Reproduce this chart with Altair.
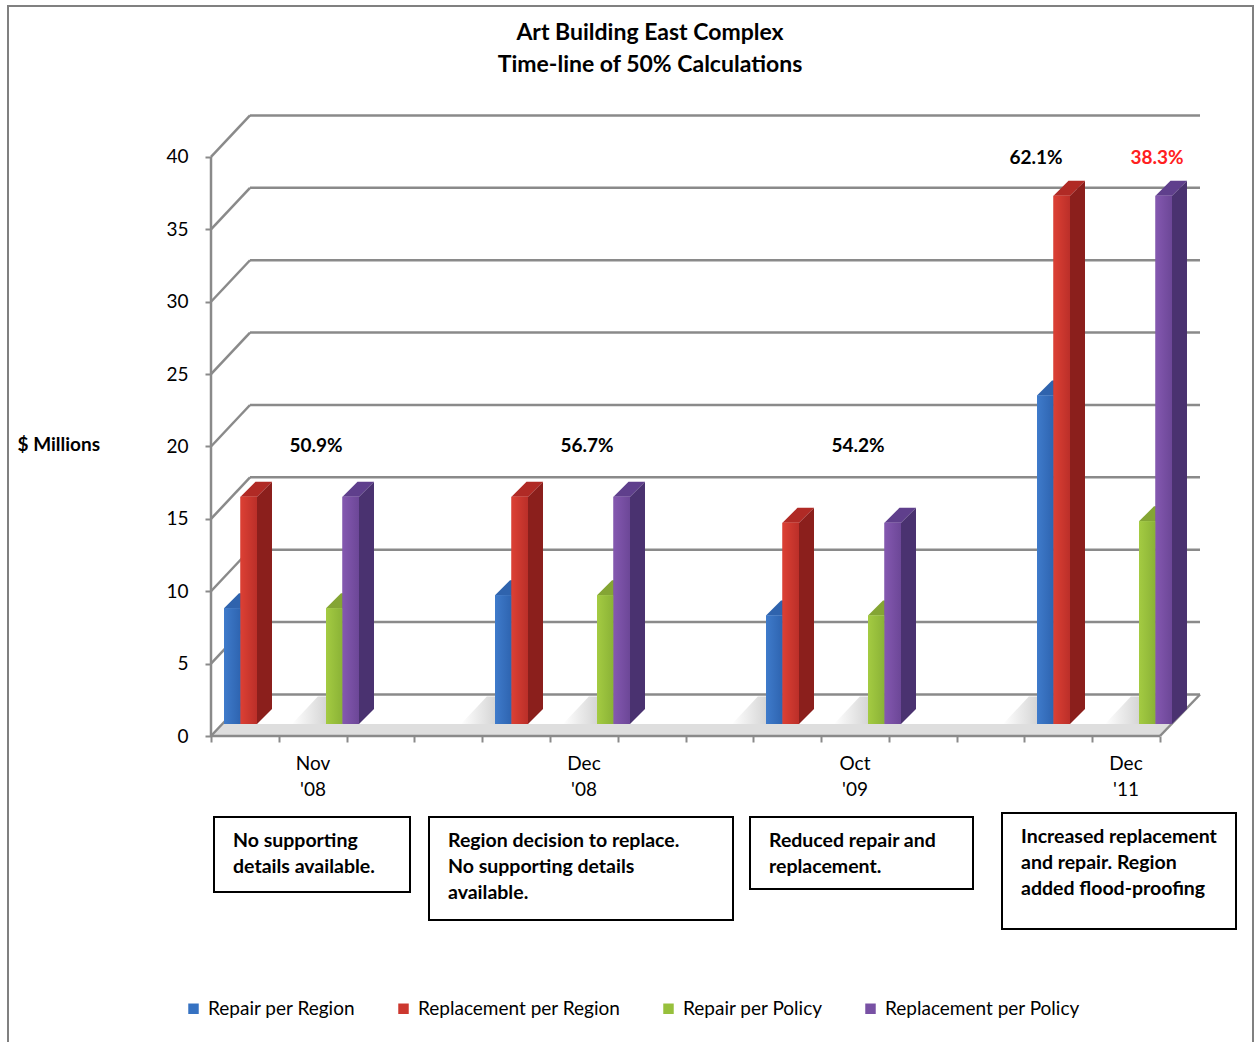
import altair as alt
import pandas as pd

# ---------------- data ----------------
CATEGORIES = ["Nov\n'08", "Dec\n'08", "Oct\n'09", "Dec\n'11"]
SERIES = ["Repair per Region", "Replacement per Region",
          "Repair per Policy", "Replacement per Policy"]
REPAIR_PER_REGION = [8.0, 8.9, 7.5, 22.7]
REPLACEMENT_PER_REGION = [15.7, 15.7, 13.9, 36.5]
REPAIR_PER_POLICY = [8.0, 8.9, 7.5, 14.0]
REPLACEMENT_PER_POLICY = [15.7, 15.7, 13.9, 36.5]
PCT_TEXT = ["50.9%", "56.7%", "54.2%", "62.1%", "38.3%"]
PCT_CATEGORY = [0, 1, 2, 3, 3]
PCT_PAIR = ["both", "both", "both", "region", "policy"]
Y_TICKS = [0, 5, 10, 15, 20, 25, 30, 35, 40]
NOTES = [
    "No supporting\ndetails available.",
    "Region decision to replace.\nNo supporting details\navailable.",
    "Reduced repair and\nreplacement.",
    "Increased replacement\nand repair.  Region\nadded flood-proofing",
]
TITLE_LINES = ["Art Building East Complex", "Time-line of 50% Calculations"]
Y_TITLE = "$ Millions"

# ---------------- layout / style ----------------
FONT = "Lato"
W, H = 989, 621
Y_MAX = 42.9
PXU = H / Y_MAX
GROUP_STEP = 271
GROUP_START = 13
BAR_W = 16.5
PAIR_GAP = 102
DEPTH_X = 15
DEPTH_Y = 15 / PXU
BASE = 12 / PXU
WALL_X = 39
WALL_Y = 41.5 / PXU
FLOOR_W = 949
GRID = "#8a8a8a"

FRONT = ["#3672c2", "#cc382f", "#97c03c", "#7851a4"]
FRONT_LIGHT = ["#3f7bcb", "#dc4034", "#a4cb42", "#8458b0"]
FRONT_DARK = ["#2e64b0", "#bb2f29", "#8ab236", "#6c4797"]
SIDE = ["#24518f", "#8b1f1c", "#6d8e28", "#4a3270"]
TOP = ["#2f63ad", "#b02a25", "#84a534", "#5f3f8c"]

VALUES = [REPAIR_PER_REGION, REPLACEMENT_PER_REGION, REPAIR_PER_POLICY, REPLACEMENT_PER_POLICY]

xs = alt.Scale(domain=[0, W], nice=False, zero=False)
ys = alt.Scale(domain=[0, Y_MAX], nice=False, zero=False)

# ---------------- geometry tables built from the arrays ----------------
front_rows, side_rows, top_rows = [], [], []
for si, (s, vals) in enumerate(zip(SERIES, VALUES)):
    for ci, v in enumerate(vals):
        x0 = GROUP_START + GROUP_STEP * ci + (si // 2) * PAIR_GAP + (si % 2) * BAR_W
        x1 = x0 + BAR_W
        b, t = BASE, BASE + v
        key = f"{ci}-{si}"
        front_rows.append(dict(series=s, x0=x0, x1=x1, b=b, t=t, value=v))
        side_rows += [dict(series=s, key=key, px=x1, lo=b, hi=t),
                      dict(series=s, key=key, px=x1 + DEPTH_X, lo=b + DEPTH_Y, hi=t + DEPTH_Y)]
        top_rows += [dict(series=s, key=key, px=x0, lo=t, hi=t),
                     dict(series=s, key=key, px=x0 + DEPTH_X, lo=t, hi=t + DEPTH_Y),
                     dict(series=s, key=key, px=x1, lo=t, hi=t + DEPTH_Y),
                     dict(series=s, key=key, px=x1 + DEPTH_X, lo=t + DEPTH_Y, hi=t + DEPTH_Y)]
front_df = pd.DataFrame(front_rows)
side_df = pd.DataFrame(side_rows)
top_df = pd.DataFrame(top_rows)

SLANT = WALL_X / WALL_Y  # x units per y unit along the depth direction
shadow_rows = []
for ci in range(len(CATEGORIES)):
    for p in range(2):
        xl = GROUP_START + GROUP_STEP * ci + p * PAIR_GAP
        k = f"{ci}-{p}"
        d = 1.9
        left = max(xl - 34, BASE * SLANT + 2)
        shadow_rows += [dict(key=k, px=left, lo=BASE, hi=BASE),
                        dict(key=k, px=left + d * SLANT, lo=BASE, hi=BASE + d),
                        dict(key=k, px=xl + 4, lo=BASE, hi=BASE + d),
                        dict(key=k, px=xl + 4 + d * SLANT, lo=BASE + d, hi=BASE + d)]
shadow_df = pd.DataFrame(shadow_rows)

band_df = pd.DataFrame([
    dict(px=0, lo=0, hi=0),
    dict(px=BASE * SLANT, lo=0, hi=BASE),
    dict(px=FLOOR_W, lo=0, hi=BASE),
    dict(px=FLOOR_W + BASE * SLANT, lo=BASE, hi=BASE),
])

grid_df = pd.DataFrame({"v": Y_TICKS})
grid_df["vb"] = grid_df["v"] + WALL_Y
grid_df["x0"] = 0
grid_df["x1"] = WALL_X

edge_df = pd.DataFrame([
    dict(xa=0, ya=0, xb=0, yb=40),               # front vertical axis
    dict(xa=0, ya=0, xb=FLOOR_W, yb=0),          # front floor edge
    dict(xa=FLOOR_W, ya=0, xb=W, yb=WALL_Y),     # right floor edge
])

cat_df = pd.DataFrame({"label": CATEGORIES,
                       "cx": [GROUP_START + GROUP_STEP * i + 89 for i in range(len(CATEGORIES))]})

pct_df = pd.DataFrame({"text": PCT_TEXT, "ci": PCT_CATEGORY, "pair": PCT_PAIR})
pct_df["cx"] = [GROUP_START + GROUP_STEP * c + (92 if p == "both" else (-1 if p == "region" else PAIR_GAP + 18))
                for c, p in zip(pct_df["ci"], pct_df["pair"])]
pct_df["cy"] = [20.0 if p == "both" else 39.9 for p in pct_df["pair"]]

# note boxes (pixel layout relative to the plot origin)
BOX_L = [214, 429, 750, 1002]
BOX_R = [410, 733, 973, 1236]
BOX_T = [817, 817, 817, 813]
BOX_B = [892, 920, 889, 929]
box_df = pd.DataFrame({
    "note": NOTES,
    "bx": [v - 211 for v in BOX_L], "bx2": [v - 211 for v in BOX_R],
    "by": [v - 115 for v in BOX_T], "by2": [v - 115 for v in BOX_B],
    "tx": [v - 211 + 19 for v in BOX_L], "ty": [v - 115 + 24 for v in BOX_T],
})

title_df = pd.DataFrame({"line": TITLE_LINES, "ty": [33 - 115, 65 - 115]})

one = alt.Data(values=[{"k": 1}])

# ---------------- layers ----------------
frame = alt.Chart(one).mark_rect(fillOpacity=0, stroke="#808080", strokeWidth=2).encode(
    x=alt.value(8 - 211), x2=alt.value(1253 - 211), y=alt.value(6 - 115), y2=alt.value(1060 - 115))

band = alt.Chart(band_df).mark_area(orient="vertical", color="#dedede").encode(
    x=alt.X("px:Q", scale=xs), y=alt.Y("hi:Q", scale=ys), y2="lo:Q")

shadows = alt.Chart(shadow_df).mark_area(
    orient="vertical", opacity=0.9,
    color=alt.Gradient(gradient="linear", x1=0, x2=1, y1=0, y2=0,
                       stops=[alt.GradientStop(color="#ffffff", offset=0),
                              alt.GradientStop(color="#a9a9a9", offset=1)])).encode(
    x=alt.X("px:Q", scale=xs), y=alt.Y("hi:Q", scale=ys), y2="lo:Q",
    detail="key:N")

wall_h = alt.Chart(grid_df).mark_rule(color=GRID, strokeWidth=2.5).encode(
    x=alt.value(WALL_X), x2=alt.value(W), y=alt.Y("vb:Q", scale=ys))

wall_d = alt.Chart(grid_df).mark_rule(color=GRID, strokeWidth=2.5).encode(
    x=alt.X("x0:Q", scale=xs), x2="x1:Q",
    y=alt.Y("v:Q", scale=ys), y2="vb:Q")

edges = alt.Chart(edge_df).mark_rule(color=GRID, strokeWidth=2.5).encode(
    x=alt.X("xa:Q", scale=xs,
            axis=alt.Axis(values=[FLOOR_W * k / 14 for k in range(15)], labels=False, domain=False,
                          grid=False, ticks=True, tickSize=6, tickColor=GRID, tickWidth=2,
                          title=None, zindex=1)),
    x2="xb:Q",
    y=alt.Y("ya:Q", scale=ys,
            axis=alt.Axis(values=Y_TICKS, domain=False, grid=False, tickSize=6, tickColor=GRID,
                          tickWidth=2, labelFont=FONT, labelFontSize=19, labelColor="black",
                          labelPadding=17, title=Y_TITLE, titleAngle=0, titleFont=FONT,
                          titleFontSize=19, titleFontWeight="bold", titleColor="black",
                          titleAlign="left", titleBaseline="middle", titleX=17 - 211,
                          titleY=444 - 115, zindex=1)),
    y2="yb:Q")

side_layer = alt.Chart(side_df).mark_area(orient="vertical").encode(
    x=alt.X("px:Q", scale=xs), y=alt.Y("hi:Q", scale=ys), y2="lo:Q",
    detail="key:N",
    color=alt.Color("series:N", scale=alt.Scale(domain=SERIES, range=SIDE), legend=None))

top_layer = alt.Chart(top_df).mark_area(orient="vertical").encode(
    x=alt.X("px:Q", scale=xs), y=alt.Y("hi:Q", scale=ys), y2="lo:Q",
    detail="key:N",
    color=alt.Color("series:N", scale=alt.Scale(domain=SERIES, range=TOP), legend=None))

front_layer = alt.Chart(front_df).mark_rect().encode(
    x=alt.X("x0:Q", scale=xs), x2="x1:Q",
    y=alt.Y("b:Q", scale=ys), y2="t:Q",
    color=alt.Color("series:N", scale=alt.Scale(domain=SERIES, range=FRONT),
                    legend=alt.Legend(title=None, orient="none", direction="horizontal",
                                      columns=4, legendX=186 - 211 - 2, legendY=1009 - 115 - 10,
                                      symbolType="square", symbolSize=110, symbolStrokeWidth=0,
                                      labelFont=FONT, labelFontSize=19, labelColor="black",
                                      labelLimit=0, labelOffset=5, columnPadding=38)))

# subtle left-to-right shading on each bar's front face
shade_layers = []
for s, c_light, c_dark in zip(SERIES, FRONT_LIGHT, FRONT_DARK):
    shade_layers.append(
        alt.Chart(front_df).transform_filter(alt.datum.series == s).mark_rect(
            color=alt.Gradient(gradient="linear", x1=0, x2=1, y1=0, y2=0,
                               stops=[alt.GradientStop(color=c_light, offset=0),
                                      alt.GradientStop(color=c_dark, offset=1)])).encode(
            x=alt.X("x0:Q", scale=xs), x2="x1:Q",
            y=alt.Y("b:Q", scale=ys), y2="t:Q"))

pct_layer = alt.Chart(pct_df).mark_text(font=FONT, fontSize=19, fontWeight="bold",
                                        baseline="middle", align="center").encode(
    x=alt.X("cx:Q", scale=xs), y=alt.Y("cy:Q", scale=ys), text="text:N",
    color=alt.condition("datum.pair == 'policy'", alt.value("#ff2020"), alt.value("black")))

cat_layer = alt.Chart(cat_df).mark_text(font=FONT, fontSize=19, lineBreak="\n", lineHeight=26,
                                        baseline="alphabetic", align="center", color="black").encode(
    x=alt.X("cx:Q", scale=xs), y=alt.value(770 - 115), text="label:N")

title_layer = alt.Chart(title_df).mark_text(font=FONT, fontSize=23, fontWeight="bold",
                                            baseline="middle", align="center", color="black").encode(
    x=alt.value(650 - 211), y=alt.Y("ty:Q", scale=None), text="line:N")

box_layer = alt.Chart(box_df).mark_rect(fill="white", stroke="black", strokeWidth=2).encode(
    x=alt.X("bx:Q", scale=None), x2="bx2:Q", y=alt.Y("by:Q", scale=None), y2="by2:Q")

box_text = alt.Chart(box_df).mark_text(font=FONT, fontSize=19.5, fontWeight="bold", lineBreak="\n",
                                       lineHeight=26, baseline="middle", align="left",
                                       color="black").encode(
    x=alt.X("tx:Q", scale=None), y=alt.Y("ty:Q", scale=None), text="note:N")

chart = alt.layer(
    frame, band, shadows, wall_h, wall_d, edges, side_layer, top_layer, front_layer,
    *shade_layers, pct_layer, cat_layer, title_layer, box_layer, box_text
).resolve_scale(color="independent").properties(
    width=W, height=H,
    autosize=alt.AutoSizeParams(type="none"),
    padding={"left": 211, "top": 115, "right": 1257 - 211 - W, "bottom": 1042 - 115 - H},
    background="white",
).configure_view(stroke=None)

chart.save("out.html", embed_options={"renderer": "svg", "actions": False})
